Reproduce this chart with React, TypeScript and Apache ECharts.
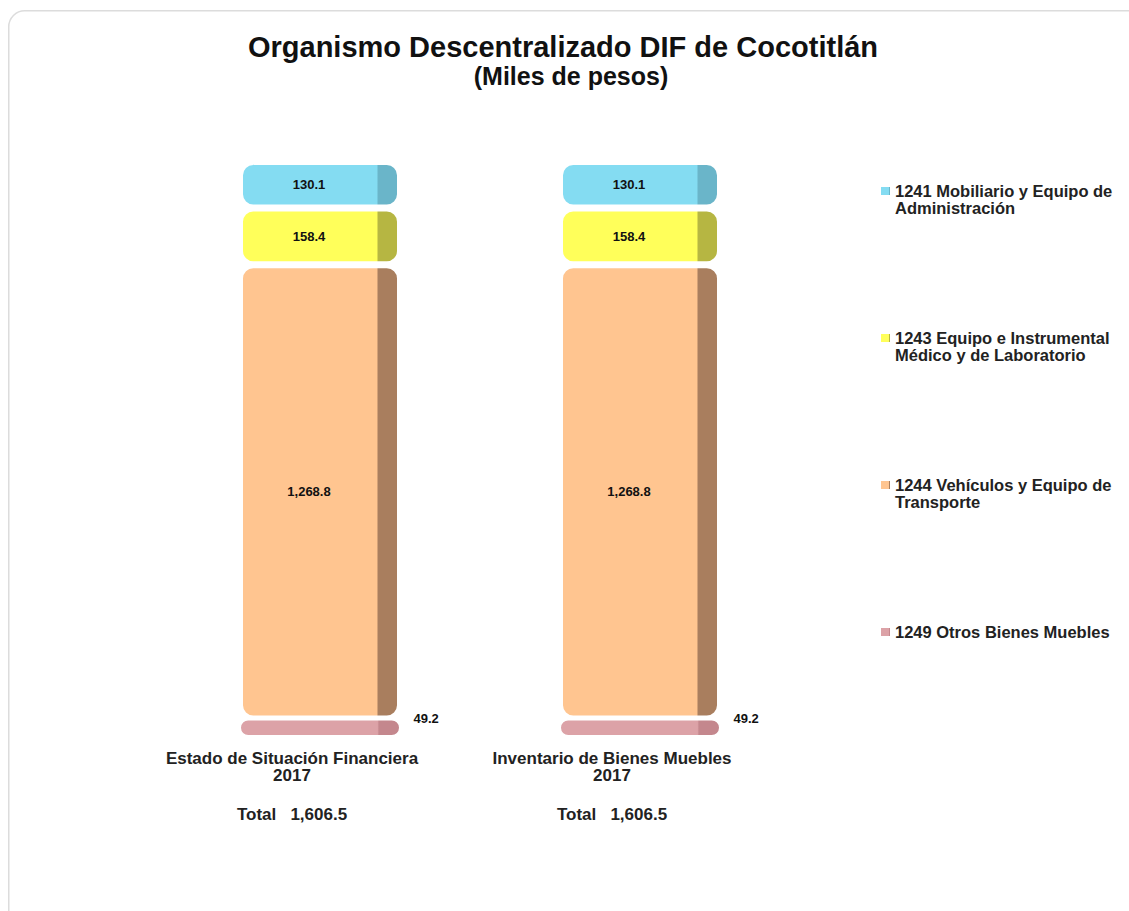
import React, { useEffect, useRef } from "react";
import * as echarts from "echarts";

const categories = ["Estado de Situación Financiera", "Inventario de Bienes Muebles"];
const years = ["2017", "2017"];
const seriesNames = [
  "1249 Otros Bienes Muebles",
  "1244 Vehículos y Equipo de Transporte",
  "1243 Equipo e Instrumental Médico y de Laboratorio",
  "1241 Mobiliario y Equipo de Administración",
];
const legendLabels: Record<string, string> = {
  "1241 Mobiliario y Equipo de Administración": "1241 Mobiliario y Equipo de\nAdministración",
  "1243 Equipo e Instrumental Médico y de Laboratorio": "1243 Equipo e Instrumental\nMédico y de Laboratorio",
  "1244 Vehículos y Equipo de Transporte": "1244 Vehículos y Equipo de\nTransporte",
  "1249 Otros Bienes Muebles": "1249 Otros Bienes Muebles\n ",
};
const values1249 = [49.2, 49.2];
const values1244 = [1268.8, 1268.8];
const values1243 = [158.4, 158.4];
const values1241 = [130.1, 130.1];
const seriesValues = [values1249, values1244, values1243, values1241];
const frontColors = ["#dca2a7", "#ffc590", "#ffff5a", "#84dcf2"];
const sideColors = ["#c4878d", "#a97e5e", "#b6b642", "#6ab5c9"];

const fmt = (v: number) =>
  v.toLocaleString("en-US", { minimumFractionDigits: 1, maximumFractionDigits: 1 });

export default function App() {
  const ref = useRef<HTMLDivElement>(null);
  useEffect(() => {
    if (!ref.current) return;
    const chart = echarts.init(ref.current, undefined, { renderer: "svg" });
    const totals = categories.map((_, i) => seriesValues.reduce((s, arr) => s + arr[i], 0));
    const font = "'Liberation Sans', Arial, sans-serif";

    const series = seriesNames.map((name, k) => {
      const grad = new echarts.graphic.LinearGradient(0, 0, 1, 0, [
        { offset: 0, color: frontColors[k] },
        { offset: 0.86, color: frontColors[k] },
        { offset: 0.87, color: sideColors[k] },
        { offset: 1, color: sideColors[k] },
      ]);
      const isSmall = k === 0;
      return {
        type: "bar",
        name,
        stack: "total",
        barWidth: 161,
        data: seriesValues[k],
        itemStyle: {
          color: grad,
          borderColor: "#ffffff",
          borderWidth: isSmall ? 1.5 : 3.5,
          borderRadius: isSmall ? 8 : 12,
        },
        label: {
          show: true,
          position: isSmall ? "right" : "inside",
          offset: isSmall ? [8, -9] : [-11, 0],
          formatter: (p: any) => fmt(p.value),
          fontFamily: font,
          fontWeight: "bold",
          fontSize: 13,
          color: "#111",
        },
      };
    });

    chart.setOption({
      animation: false,
      backgroundColor: "#ffffff",
      graphic: [
        {
          type: "rect",
          left: 8,
          top: 10,
          shape: { width: 1140, height: 920, r: 16 },
          style: { fill: "#ffffff", stroke: "#dcdcdc", lineWidth: 1.5 },
          z: -10,
        },
      ],
      title: [
        {
          text: "Organismo Descentralizado DIF de Cocotitlán",
          left: 558,
          textAlign: "center",
          top: 27,
          textStyle: {
            fontFamily: font,
            fontWeight: "bold",
            fontSize: 29,
            color: "#111",
          },
        },
        {
          text: "(Miles de pesos)",
          left: 566,
          textAlign: "center",
          top: 58,
          textStyle: {
            fontFamily: font,
            fontWeight: "bold",
            fontSize: 25,
            color: "#111",
          },
        },
      ],
      legend: {
        orient: "vertical",
        left: 876,
        top: 160.5,
        itemGap: 96,
        itemWidth: 9,
        itemHeight: 8,
        itemStyle: { borderWidth: 0 },
        icon: "rect",
        selectedMode: false,
        data: [seriesNames[3], seriesNames[2], seriesNames[1], seriesNames[0]],
        formatter: (n: string) => " \n" + (legendLabels[n] || n),
        textStyle: {
          fontFamily: font,
          fontWeight: "bold",
          fontSize: 16.5,
          lineHeight: 17,
          color: "#222",
        },
        itemTextGap: 3,
      },
      grid: { left: 160, width: 640, top: 161.5, bottom: 174.5 },
      xAxis: {
        type: "category",
        data: categories,
        axisLine: { show: false },
        axisTick: { show: false },
        axisLabel: {
          interval: 0,
          margin: 13,
          padding: [0, 56, 0, 0],
          formatter: (v: string, i: number) =>
            `{a|${v}}\n{a|${years[i]}}\n{g|}\n{a|Total   ${fmt(totals[i])}}`,
          rich: {
            a: {
              fontFamily: font,
              fontWeight: "bold",
              fontSize: 17,
              lineHeight: 17,
              color: "#222",
            },
            g: { fontSize: 10, lineHeight: 22 },
          },
        },
      },
      yAxis: {
        type: "value",
        min: 0,
        max: totals[0],
        show: false,
        splitLine: { show: false },
      },
      series,
    });
    return () => chart.dispose();
  }, []);
  return (
    <div
      ref={ref}
      style={{ position: "absolute", left: 0, top: 0, width: 1129, height: 911 }}
    />
  );
}
